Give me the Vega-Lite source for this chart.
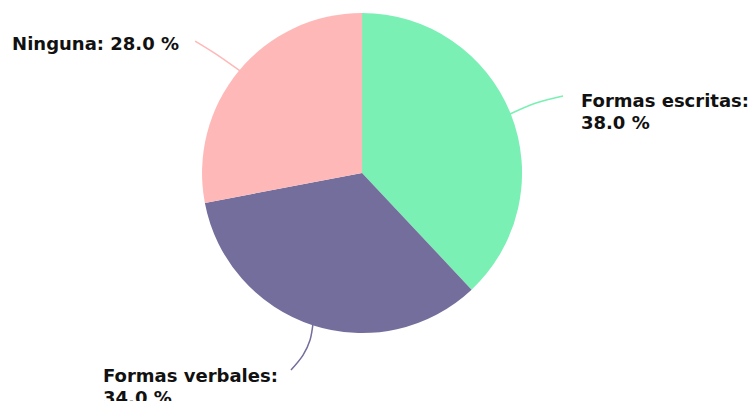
{
  "$schema": "https://vega.github.io/schema/vega-lite/v6.json",
  "width": 750,
  "height": 401,
  "autosize": {"type": "none"},
  "padding": 0,
  "background": "white",
  "config": {"view": {"stroke": null}},
  "datasets": {
    "slices": [
      {"categoria": "Formas escritas", "valor": 38, "orden": 1, "cx": 0, "cy": 0},
      {"categoria": "Formas verbales", "valor": 34, "orden": 2, "cx": 0, "cy": 0},
      {"categoria": "Ninguna", "valor": 28, "orden": 3, "cx": 0, "cy": 0}
    ],
    "labels": [
      {"categoria": "Ninguna", "texto": "Ninguna: 28.0 %", "lx": -2.201, "ly": 0.774},
      {"categoria": "Formas escritas", "texto": "Formas escritas:\n38.0 %", "lx": 1.377, "ly": 0.413},
      {"categoria": "Formas verbales", "texto": "Formas verbales:\n34.0 %", "lx": -1.629, "ly": -1.314}
    ],
    "leaders": [
      {"categoria": "Ninguna", "i": 1, "px": -0.767, "py": 0.642},
      {"categoria": "Ninguna", "i": 2, "px": -0.918, "py": 0.748},
      {"categoria": "Ninguna", "i": 3, "px": -1.050, "py": 0.830},
      {"categoria": "Formas escritas", "i": 1, "px": 0.931, "py": 0.371},
      {"categoria": "Formas escritas", "i": 2, "px": 1.094, "py": 0.440},
      {"categoria": "Formas escritas", "i": 3, "px": 1.264, "py": 0.484},
      {"categoria": "Formas verbales", "i": 1, "px": -0.308, "py": -0.943},
      {"categoria": "Formas verbales", "i": 2, "px": -0.327, "py": -1.050},
      {"categoria": "Formas verbales", "i": 3, "px": -0.371, "py": -1.145},
      {"categoria": "Formas verbales", "i": 4, "px": -0.447, "py": -1.239}
    ]
  },
  "layer": [
    {
      "data": {"name": "leaders"},
      "mark": {"type": "line", "strokeWidth": 1.5, "interpolate": "cardinal", "clip": false},
      "encoding": {
        "x": {"field": "px", "type": "quantitative", "scale": {"domain": [-2.277, 2.440], "nice": false, "zero": false}, "axis": null},
        "y": {"field": "py", "type": "quantitative", "scale": {"domain": [-1.434, 1.088], "nice": false, "zero": false}, "axis": null},
        "detail": {"field": "categoria"},
        "order": {"field": "i", "type": "quantitative"},
        "color": {"field": "categoria", "type": "nominal", "scale": {"domain": ["Formas escritas", "Formas verbales", "Ninguna"], "range": ["#7AF0B4", "#736E9C", "#FFB8B8"]}, "legend": null}
      }
    },
    {
      "data": {"name": "slices"},
      "mark": {"type": "arc", "outerRadius": 160},
      "encoding": {
        "theta": {"field": "valor", "type": "quantitative", "stack": true},
        "order": {"field": "orden", "type": "quantitative"},
        "x": {"field": "cx", "type": "quantitative", "scale": {"domain": [-2.277, 2.440], "nice": false, "zero": false}, "axis": null},
        "y": {"field": "cy", "type": "quantitative", "scale": {"domain": [-1.434, 1.088], "nice": false, "zero": false}, "axis": null},
        "color": {"field": "categoria", "type": "nominal", "scale": {"domain": ["Formas escritas", "Formas verbales", "Ninguna"], "range": ["#7AF0B4", "#736E9C", "#FFB8B8"]}, "legend": null}
      }
    },
    {
      "data": {"name": "labels"},
      "mark": {"type": "text", "align": "left", "baseline": "alphabetic", "font": "DejaVu Sans", "fontWeight": "bold", "fontSize": 18, "lineBreak": "\n", "lineHeight": 22, "color": "#111111", "clip": false},
      "encoding": {
        "x": {"field": "lx", "type": "quantitative", "scale": {"domain": [-2.277, 2.440], "nice": false, "zero": false}, "axis": null},
        "y": {"field": "ly", "type": "quantitative", "scale": {"domain": [-1.434, 1.088], "nice": false, "zero": false}, "axis": null},
        "text": {"field": "texto"}
      }
    }
  ]
}
